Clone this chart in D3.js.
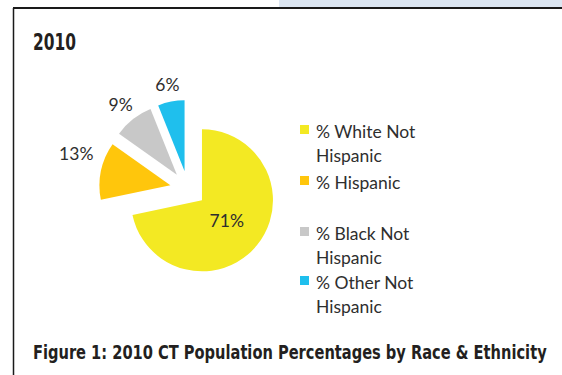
<!DOCTYPE html>
<html>
<head>
<meta charset="utf-8">
<script src="https://cdn.jsdelivr.net/npm/d3@7"></script>
<style>
  html, body { margin: 0; padding: 0; background: #fff; }
  svg { display: block; }
</style>
</head>
<body>
<svg id="chart" width="562" height="375"></svg>
<script>
// 2010 Connecticut population shares by race & ethnicity
const categories = ["White Not Hispanic", "Hispanic", "Black Not Hispanic", "Other Not Hispanic"];
const shares = [71, 13, 9, 6];
const legendLines = [["% White Not", "Hispanic"], ["% Hispanic"], ["% Black Not", "Hispanic"], ["% Other Not", "Hispanic"]];
const sliceColors = ["#f3e923", "#ffc60c", "#c8c8c8", "#1fbfed"];
const titleText = "2010";
const captionText = "Figure 1: 2010 CT Population Percentages by Race & Ethnicity";

const svg = d3.select("#chart");
const labelFont = "Lato, 'Open Sans', sans-serif";
const headFont = "'Liberation Sans Narrow', 'DejaVu Sans Condensed', 'Roboto Condensed', sans-serif";
const textColor = "#2e2e2e";

// condensed bold heading: squeeze horizontally to the wanted width
function condensedText(x, y, size, width, str) {
  const t = svg.append("text")
    .attr("font-family", headFont).attr("font-weight", "bold").attr("font-size", size)
    .attr("fill", "#231f20").attr("x", 0).attr("y", 0).text(str);
  const natural = t.node().getComputedTextLength();
  t.attr("transform", `translate(${x},${y}) scale(${width / natural},1)`);
  return t;
}

// page frame: tinted strip at top, dark rule and left edge
svg.append("rect").attr("x", 279).attr("y", 0).attr("width", 283).attr("height", 7).attr("fill", "#dce6f2");
svg.append("line").attr("x1", 13).attr("x2", 562).attr("y1", 8).attr("y2", 8)
  .attr("stroke", "#1a1a1a").attr("stroke-width", 2);
svg.append("line").attr("x1", 13.5).attr("x2", 13.5).attr("y1", 8).attr("y2", 375)
  .attr("stroke", "#1a1a1a").attr("stroke-width", 1.5);

condensedText(33, 50, 23, 43, titleText);

// exploded pie
const cx = 188, cy = 189, radius = 71, explode = 18;
const pie = d3.pie().sort(null).value(d => d)(shares);
const arc = d3.arc().innerRadius(0).outerRadius(radius);
const pieG = svg.append("g").attr("transform", `translate(${cx},${cy})`);
const labelSize = 17.5;

pie.forEach((p, i) => {
  const mid = (p.startAngle + p.endAngle) / 2;
  const ux = Math.sin(mid), uy = -Math.cos(mid);
  const g = pieG.append("g").attr("transform", `translate(${ux * explode},${uy * explode})`);
  g.append("path").attr("d", arc(p)).attr("fill", sliceColors[i]);

  const lbl = g.append("text")
    .attr("font-family", labelFont).attr("font-size", labelSize).attr("fill", textColor)
    .attr("text-anchor", "middle").text(shares[i] + "%");
  if (i === 0) {
    // inside label for the largest slice
    lbl.attr("x", ux * radius * 0.45).attr("y", uy * radius * 0.45 + labelSize * 0.35);
  } else {
    // outside-end label, box pushed clear of the arc
    const w = lbl.node().getComputedTextLength();
    const h = labelSize * 0.8;
    const rr = radius + 8;
    const lx = ux * rr + ux * w / 2;
    const ly = uy * rr + uy * h / 2 - (i === 1 ? 14 : 2);
    lbl.attr("x", lx).attr("y", ly + labelSize * 0.35);
  }
});

// legend
const legendY = [132, 183, 234, 283];
const lg = svg.append("g");
legendLines.forEach((lines, i) => {
  lg.append("rect").attr("x", 300).attr("y", legendY[i] - 7).attr("width", 9).attr("height", 9)
    .attr("fill", sliceColors[i]);
  lines.forEach((t, j) => {
    lg.append("text").attr("x", 316).attr("y", legendY[i] + 6 + j * 24)
      .attr("font-family", labelFont).attr("font-size", labelSize).attr("fill", textColor)
      .text(t);
  });
});

condensedText(33, 359, 20, 514, captionText);
</script>
</body>
</html>
